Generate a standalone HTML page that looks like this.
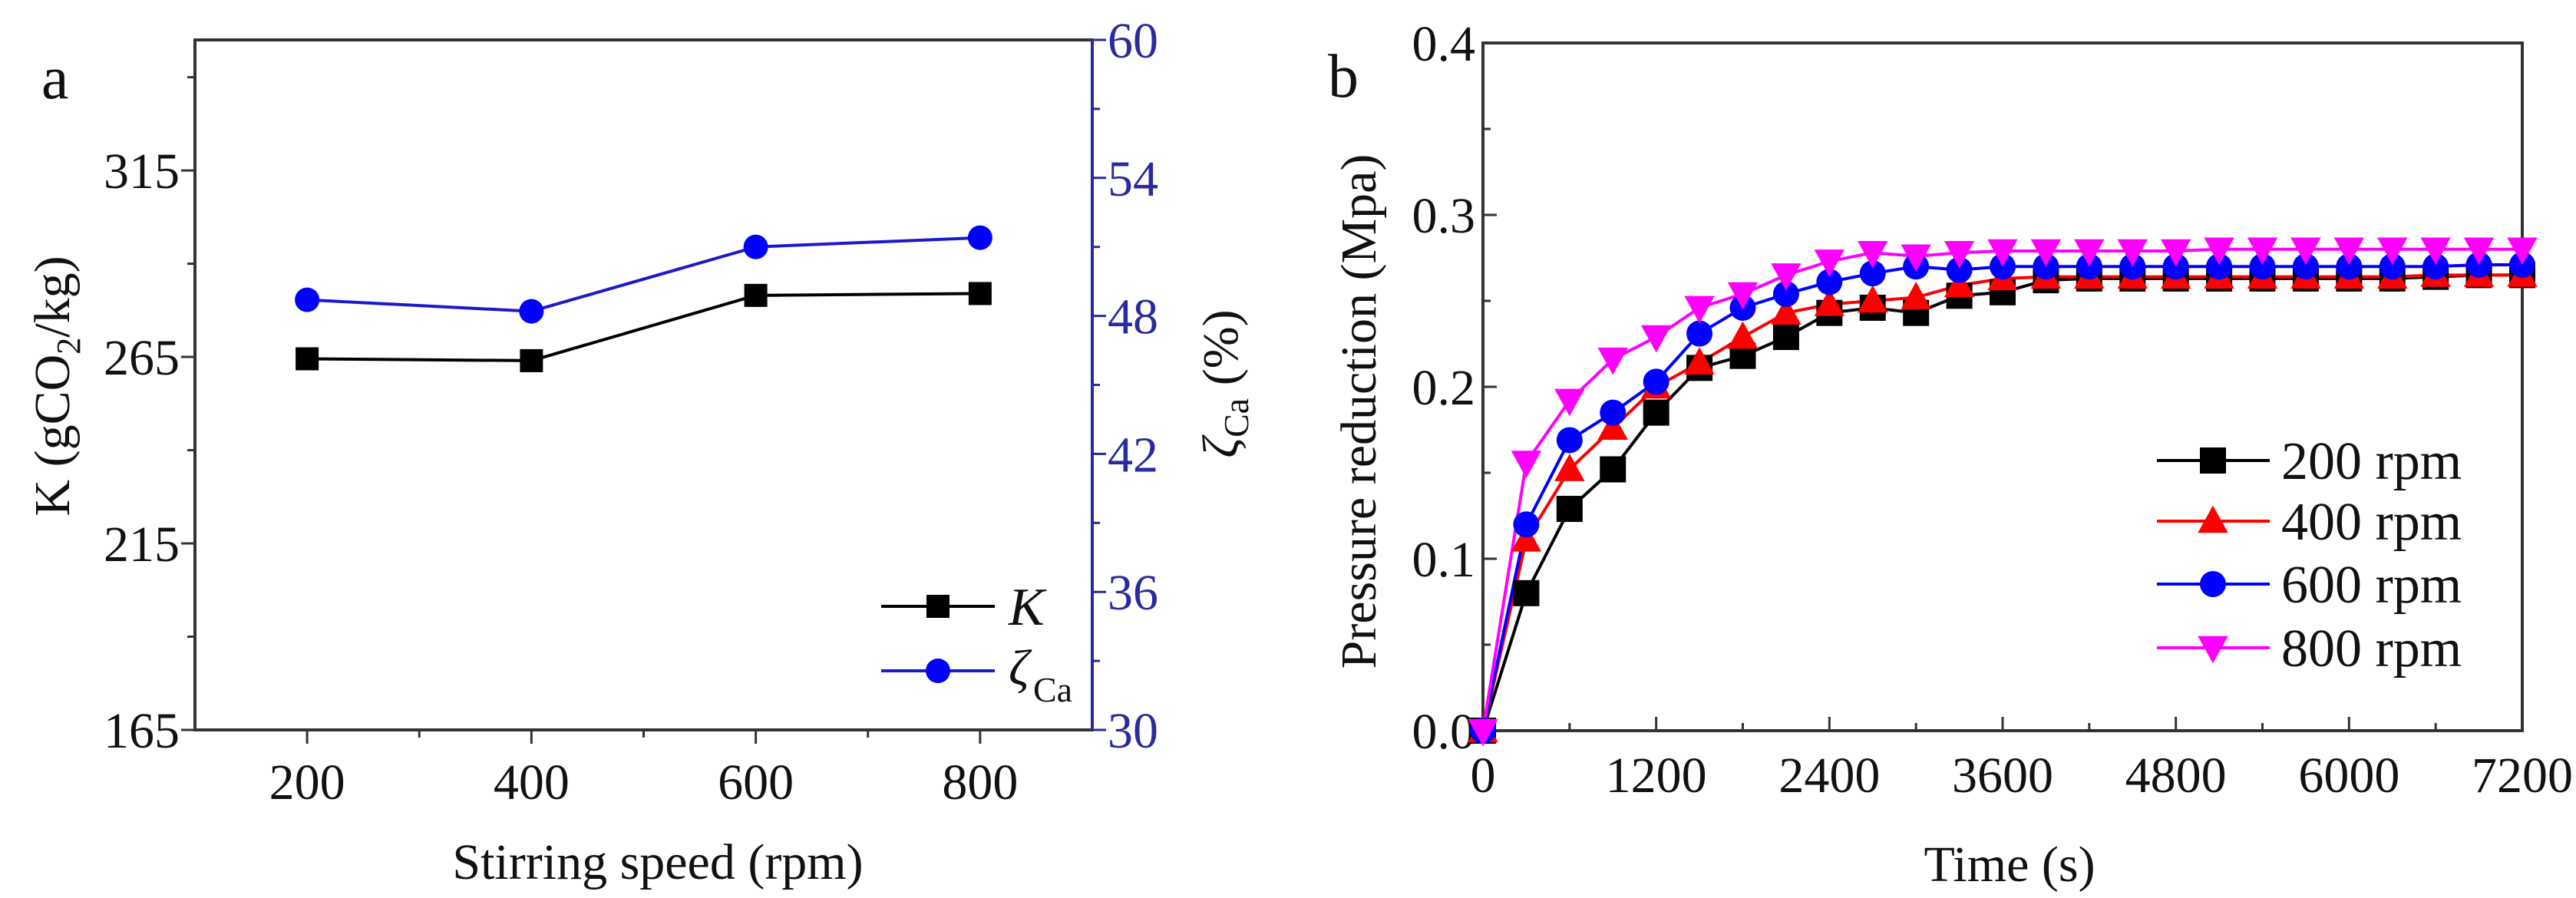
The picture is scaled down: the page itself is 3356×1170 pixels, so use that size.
<!DOCTYPE html>
<html><head><meta charset="utf-8"><style>
html,body{margin:0;padding:0;background:#fff;}
svg{display:block;font-family:"Liberation Serif","DejaVu Serif",serif;}
</style></head><body>
<svg id="chart" width="3356" height="1170" viewBox="0 0 3356 1170" xmlns="http://www.w3.org/2000/svg">
<g id="pa"></g>
<g id="pb"></g>
</svg>
<script>
// Panel a data
const speeds = [200, 400, 600, 800];
const kValues = [264.5, 264, 281.5, 282];
const zetaValues = [48.7, 48.2, 51.0, 51.4];
const aXTicks = [200, 400, 600, 800];
const aLeftTicks = [165, 215, 265, 315];
const aRightTicks = [30, 36, 42, 48, 54, 60];
// Panel b data
const times = [0,300,600,900,1200,1500,1800,2100,2400,2700,3000,3300,3600,3900,4200,4500,4800,5100,5400,5700,6000,6300,6600,6900,7200];
const p200 = [0,0.080,0.129,0.152,0.185,0.211,0.218,0.229,0.243,0.246,0.243,0.253,0.255,0.262,0.263,0.263,0.263,0.263,0.263,0.263,0.263,0.263,0.264,0.265,0.265];
const p400 = [0,0.111,0.152,0.176,0.200,0.214,0.229,0.243,0.248,0.250,0.252,0.259,0.263,0.264,0.264,0.264,0.264,0.264,0.264,0.264,0.264,0.264,0.265,0.265,0.265];
const p600 = [0,0.120,0.169,0.185,0.203,0.231,0.246,0.254,0.261,0.266,0.270,0.268,0.270,0.270,0.270,0.270,0.270,0.270,0.270,0.270,0.270,0.270,0.270,0.271,0.271];
const p800 = [0,0.156,0.192,0.216,0.229,0.246,0.254,0.265,0.273,0.278,0.276,0.278,0.279,0.279,0.279,0.279,0.279,0.280,0.280,0.280,0.280,0.280,0.280,0.280,0.280];
const bXTicks = [0,1200,2400,3600,4800,6000,7200];
const bYTicks = [0.0,0.1,0.2,0.3,0.4];
const bLegend = ["200 rpm","400 rpm","600 rpm","800 rpm"];

const NS="http://www.w3.org/2000/svg";
const FS=66;
function mk(parent,tag,attrs,text){const e=document.createElementNS(NS,tag);for(const k in attrs)e.setAttribute(k,attrs[k]);if(text!==undefined)e.textContent=text;parent.appendChild(e);return e;}

function marker(g,type,x,y,color,s){
  let e;
  if(type==='square') e=mk(g,'rect',{x:x-s/2,y:y-s/2,width:s,height:s,fill:color});
  else if(type==='circle') e=mk(g,'circle',{cx:x,cy:y,r:s/2,fill:color});
  else if(type==='up') e=mk(g,'polygon',{points:`${x},${y-s*0.6} ${x-s*0.58},${y+s*0.45} ${x+s*0.58},${y+s*0.45}`,fill:color});
  else e=mk(g,'polygon',{points:`${x},${y+s*0.6} ${x-s*0.58},${y-s*0.45} ${x+s*0.58},${y-s*0.45}`,fill:color});
  return e;
}

// ---------- Panel A ----------
(function(){
  const g=document.getElementById('pa');
  const L=254,R=1423,T=52,B=951;
  const xs=v=>L+(v-100)/800*(R-L);
  const yl=v=>B-(v-165)/(350-165)*(B-T);
  const yr=v=>B-(v-30)/30*(B-T);
  let e;
  e=mk(g,'rect',{x:L,y:T,width:R-L,height:B-T,fill:'none',stroke:'#333','stroke-width':4});
  
  
  e=mk(g,'line',{x1:R,y1:T,x2:R,y2:B,stroke:'#2a2aa0','stroke-width':4});
  
  
  for(let v=200;v<=800;v+=100){
    const major=aXTicks.includes(v);
    mk(g,'line',{x1:xs(v),y1:B,x2:xs(v),y2:B+(major?18:10),stroke:'#333','stroke-width':3});
  }
  aXTicks.forEach(v=>{
    e=mk(g,'text',{x:xs(v),y:B+90,'font-size':FS,'text-anchor':'middle',fill:'#111'},String(v));
    
    
  });
  for(let v=165;v<=340;v+=25){
    const major=aLeftTicks.includes(v);
    mk(g,'line',{x1:L,y1:yl(v),x2:L-(major?18:10),y2:yl(v),stroke:'#333','stroke-width':3});
  }
  aLeftTicks.forEach(v=>{
    e=mk(g,'text',{x:L-20,y:yl(v)+23,'font-size':FS,'text-anchor':'end',fill:'#111'},String(v));
    
    
  });
  for(let v=30;v<=60;v+=3){
    const major=aRightTicks.includes(v);
    mk(g,'line',{x1:R,y1:yr(v),x2:R+(major?18:10),y2:yr(v),stroke:'#2a2aa0','stroke-width':3});
  }
  aRightTicks.forEach(v=>{
    e=mk(g,'text',{x:R+20,y:yr(v)+23,'font-size':FS,'text-anchor':'start',fill:'#2a2aa0'},String(v));
    
    
  });
  const kpts=speeds.map((s,i)=>xs(s)+','+yl(kValues[i])).join(' ');
  e=mk(g,'polyline',{points:kpts,fill:'none',stroke:'#000','stroke-width':4});
  
  
  speeds.forEach((s,i)=>{
    e=marker(g,'square',xs(s),yl(kValues[i]),'#000',30);
    
    
  });
  const zpts=speeds.map((s,i)=>xs(s)+','+yr(zetaValues[i])).join(' ');
  e=mk(g,'polyline',{points:zpts,fill:'none',stroke:'#1a1acc','stroke-width':4});
  
  
  speeds.forEach((s,i)=>{
    e=marker(g,'circle',xs(s),yr(zetaValues[i]),'#0000ff',32);
    
    
  });
  const lg=mk(g,'g',{});
  
  
  mk(lg,'line',{x1:1148,y1:790,x2:1296,y2:790,stroke:'#000','stroke-width':4});
  marker(lg,'square',1222,790,'#000',30);
  mk(lg,'text',{x:1314,y:814,'font-size':70,'font-style':'italic',fill:'#111'},'K');
  mk(lg,'line',{x1:1148,y1:874,x2:1296,y2:874,stroke:'#1a1acc','stroke-width':4});
  marker(lg,'circle',1222,874,'#0000ff',32);
  mk(lg,'text',{x:1314,y:892,'font-size':66,'font-style':'italic',fill:'#111'},'ζ');
  mk(lg,'text',{x:1346,y:914,'font-size':46,fill:'#111'},'Ca');
  e=mk(g,'text',{x:54,y:128,'font-size':80,fill:'#111'},'a');
  
  
  e=mk(g,'text',{x:857,y:1145,'font-size':FS,'text-anchor':'middle',fill:'#111'},'Stirring speed (rpm)');
  
  
  e=mk(g,'text',{transform:'translate(90,503) rotate(-90)','font-size':FS,'text-anchor':'middle',fill:'#111'});
  e.innerHTML='K (gCO<tspan font-size="44" dy="14">2</tspan><tspan dy="-14">/kg)</tspan>';
  
  
  e=mk(g,'text',{transform:'translate(1612,500) rotate(-90)','font-size':FS,'text-anchor':'middle',fill:'#111'});
  e.innerHTML='<tspan font-style="italic">ζ</tspan><tspan font-size="46" dy="14">Ca</tspan><tspan dy="-14"> (%)</tspan>';
  
  
})();

// ---------- Panel B ----------
(function(){
  const g=document.getElementById('pb');
  const L=1932,R=3286,T=56,B=952;
  const xs=v=>L+v/7200*(R-L);
  const ys=v=>B-v/0.4*(B-T);
  let e;
  e=mk(g,'rect',{x:L,y:T,width:R-L,height:B-T,fill:'none',stroke:'#333','stroke-width':4});
  
  
  for(let v=0;v<=7200;v+=600){
    const major=v%1200===0;
    mk(g,'line',{x1:xs(v),y1:B,x2:xs(v),y2:B-(major?18:10),stroke:'#333','stroke-width':3});
  }
  bXTicks.forEach(v=>{
    e=mk(g,'text',{x:xs(v),y:B+80,'font-size':FS,'text-anchor':'middle',fill:'#111'},String(v));
    
    
  });
  for(let i=0;i<=8;i++){
    const v=i*0.05, major=i%2===0;
    mk(g,'line',{x1:L,y1:ys(v),x2:L+(major?18:10),y2:ys(v),stroke:'#333','stroke-width':3});
  }
  bYTicks.forEach(v=>{
    e=mk(g,'text',{x:L-10,y:ys(v)+23,'font-size':FS,'text-anchor':'end',fill:'#111'},v.toFixed(1));
    
    
  });
  const series=[[p200,'#000','square'],[p400,'#ff0000','up'],[p600,'#0000ff','circle'],[p800,'#ff00ff','down']];
  series.forEach(([vals,col,m],si)=>{
    const pts=times.map((t,i)=>xs(t)+','+ys(vals[i])).join(' ');
    e=mk(g,'polyline',{points:pts,fill:'none',stroke:col,'stroke-width':4});
    
    
  });
  series.forEach(([vals,col,m],si)=>{
    times.forEach((t,i)=>{
      e=marker(g,m,xs(t),ys(vals[i]),col,34);
      
      
    });
  });
  const lg=mk(g,'g',{});
  
  
  const ly=[600,679,761,844];
  series.forEach(([vals,col,m],i)=>{
    mk(lg,'line',{x1:2810,y1:ly[i],x2:2957,y2:ly[i],stroke:col,'stroke-width':4});
    marker(lg,m,2883,ly[i],col,34);
    mk(lg,'text',{x:2972,y:ly[i]+24,'font-size':70,fill:'#111'},bLegend[i]);
  });
  e=mk(g,'text',{x:1730,y:126,'font-size':80,fill:'#111'},'b');
  
  
  e=mk(g,'text',{x:2618,y:1148,'font-size':FS,'text-anchor':'middle',fill:'#111'},'Time (s)');
  
  
  e=mk(g,'text',{transform:'translate(1792,536) rotate(-90)','font-size':FS,'text-anchor':'middle',fill:'#111'},'Pressure reduction (Mpa)');
  
  
})();
</script>
</body></html>
